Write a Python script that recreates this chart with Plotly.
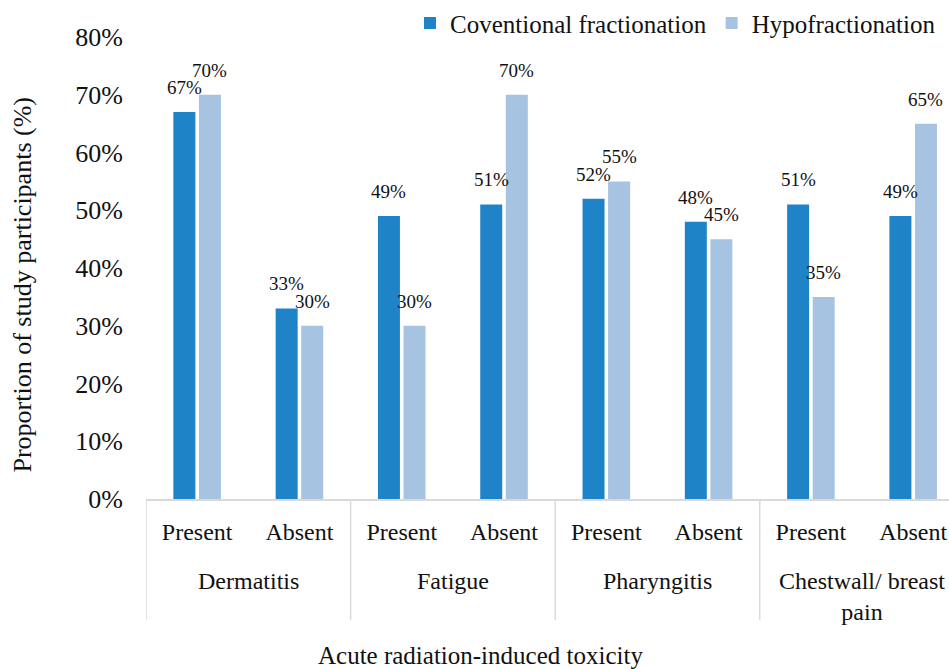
import plotly.graph_objects as go

# Toxicity groups, each split into Present / Absent
groups = ["Dermatitis", "Fatigue", "Pharyngitis", "Chestwall/ breast<br>pain"]
status = ["Present", "Absent", "Present", "Absent",
          "Present", "Absent", "Present", "Absent"]

# Proportion of participants (%) per arm
conventional = [67, 33, 49, 51, 52, 48, 51, 49]
hypofractionation = [70, 30, 30, 70, 55, 45, 35, 65]

series_names = ["Coventional fractionation", "Hypofractionation"]
colors = ["#1f83c8", "#a6c3e1"]
y_ticks = [0, 10, 20, 30, 40, 50, 60, 70, 80]

FONT = "Liberation Serif, Times New Roman, serif"
TXT = "#111111"
GRID = "#d9d9d9"

BARGAP = 0.5
GROUPGAP = 0.14

positions = list(range(len(status)))
fig = go.Figure()
for name, vals, col in zip(series_names, [conventional, hypofractionation], colors):
    fig.add_trace(go.Bar(
        x=positions, y=vals, name=name,
        marker=dict(color=col, line=dict(width=0)),
        hovertemplate="%{y}%<extra>" + name + "</extra>",
    ))

annotations = []

# value labels above each bar (bar centres follow the grouped layout)
slot = (1 - BARGAP) / 2
for k, vals in enumerate([conventional, hypofractionation]):
    shift = (k - 0.5) * slot
    for i, v in enumerate(vals):
        annotations.append(dict(
            x=i + shift, y=v, xref="x", yref="y", text=f"{v}%",
            showarrow=False, xanchor="center", yanchor="bottom", yshift=12,
            font=dict(family=FONT, size=19, color=TXT),
        ))

# group labels under the Present/Absent ticks
for g, name in enumerate(groups):
    annotations.append(dict(
        x=2 * g + 0.5, y=-0.145, xref="x", yref="paper", text=name,
        showarrow=False, xanchor="center", yanchor="top",
        font=dict(family=FONT, size=24, color=TXT),
    ))

# axis titles
annotations.append(dict(
    text="Acute radiation-induced toxicity", xref="paper", yref="paper",
    x=(480 - 146) / 803, y=-0.338, xanchor="center", yanchor="middle",
    showarrow=False, font=dict(family=FONT, size=25, color=TXT),
))
annotations.append(dict(
    text="Proportion of study participants (%)", xref="paper", yref="paper",
    x=-0.154, y=0.465, xanchor="center", yanchor="middle", textangle=-90,
    showarrow=False, font=dict(family=FONT, size=26, color=TXT),
))

# vertical dividers between toxicity groups
shapes = []
for b in [-0.5, 1.5, 3.5, 5.5, 7.5]:
    shapes.append(dict(
        type="line", xref="x", yref="paper", x0=b, x1=b, y0=0, y1=-0.262,
        line=dict(color=GRID, width=1.5),
    ))

fig.update_layout(
    width=949, height=669,
    margin=dict(l=146, r=0, t=37, b=170, autoexpand=False),
    paper_bgcolor="white", plot_bgcolor="white",
    font=dict(family=FONT, color=TXT),
    barmode="group",
    bargap=BARGAP,
    bargroupgap=GROUPGAP,
    showlegend=True,
    legend=dict(
        orientation="h", x=0.99, xanchor="right", y=1.03, yanchor="middle",
        font=dict(family=FONT, size=25, color=TXT),
        bgcolor="rgba(0,0,0,0)", traceorder="normal",
    ),
    xaxis=dict(
        range=[-0.5, 7.35],
        tickvals=positions, ticktext=status,
        tickfont=dict(family=FONT, size=24, color=TXT),
        showline=True, linecolor=GRID, linewidth=1.5,
        showgrid=False, zeroline=False, ticks="", ticklabelstandoff=10,
    ),
    yaxis=dict(
        range=[0, 80],
        tickvals=y_ticks,
        ticktext=[f"{t}%" for t in y_ticks],
        tickfont=dict(family=FONT, size=26, color=TXT),
        showgrid=False, zeroline=False, showline=False,
        ticks="", ticklabelstandoff=22,
    ),
    annotations=annotations,
    shapes=shapes,
)

fig.write_html("out.html")
